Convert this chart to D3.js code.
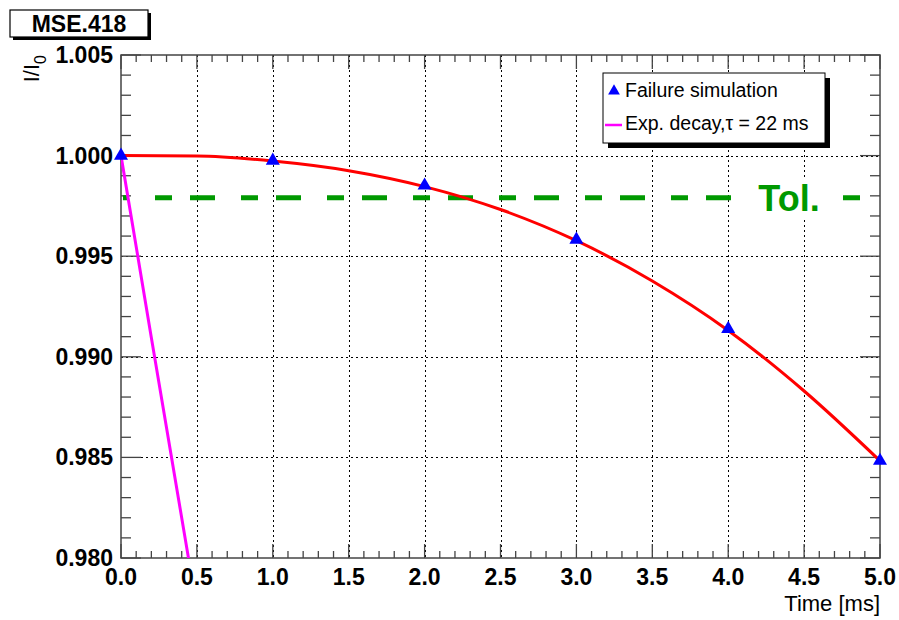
<!DOCTYPE html>
<html>
<head>
<meta charset="utf-8">
<script src="https://cdn.jsdelivr.net/npm/d3@7"></script>
<style>
  body { margin: 0; background: #fff; }
  text { font-family: "Liberation Sans", Arial, sans-serif; }
</style>
</head>
<body>
<div class="chart"></div>
<script>
// Data
const simTime = [0, 1, 2, 3, 4, 5];
const simValue = [1.0000, 0.99975, 0.99851, 0.99582, 0.99139, 0.98483];

const fitTime = [0, 0.5, 1.0, 1.5, 2.0, 2.5, 3.0, 3.5, 4.0, 4.5, 5.0];
const fitValue = [1.0000, 0.99998, 0.99973, 0.99925, 0.99846, 0.99732, 0.99577, 0.99377, 0.99131, 0.98830, 0.98483];

const expTime = [0, 0.2, 0.45];
const expValue = [1.0000, 0.99095, 0.97975];

const tolerance = 0.9979;
const xTicks = [0, 0.5, 1, 1.5, 2, 2.5, 3, 3.5, 4, 4.5, 5];
const yTicks = [0.980, 0.985, 0.990, 0.995, 1.000, 1.005];

// Frame
const W = 899, H = 620;
const frame = {left: 121, right: 880, top: 55, bottom: 558};

const svg = d3.select('.chart').append('svg')
    .attr('width', W)
    .attr('height', H);

const x = d3.scaleLinear().domain([0, 5]).range([frame.left, frame.right]);
const y = d3.scaleLinear().domain([0.980, 1.005]).range([frame.bottom, frame.top]);

svg.append('clipPath').attr('id', 'clip')
  .append('rect')
    .attr('x', frame.left).attr('y', frame.top)
    .attr('width', frame.right - frame.left).attr('height', frame.bottom - frame.top);

// grid
const grid = svg.append('g')
    .attr('stroke', '#000')
    .attr('stroke-width', 1)
    .attr('stroke-dasharray', '2,3');
grid.selectAll('.gx').data(xTicks.slice(1, -1)).join('line')
    .attr('x1', d => Math.round(x(d)) + 0.5).attr('x2', d => Math.round(x(d)) + 0.5)
    .attr('y1', frame.top).attr('y2', frame.bottom);
grid.selectAll('.gy').data(yTicks.slice(1, -1)).join('line')
    .attr('y1', d => Math.round(y(d)) + 0.5).attr('y2', d => Math.round(y(d)) + 0.5)
    .attr('x1', frame.left).attr('x2', frame.right);

// ticks on all four sides, pointing inward
const xMinor = d3.range(0, 50.5, 1).map(d => d / 10);
const yMinor = d3.range(980, 1005.5, 1).map(d => d / 1000);
const ticks = svg.append('g').attr('stroke', '#444').attr('stroke-width', 1.3);
xMinor.forEach((d, i) => {
  const len = i % 5 === 0 ? 14 : 7;
  const px = x(d);
  ticks.append('line').attr('x1', px).attr('x2', px).attr('y1', frame.bottom).attr('y2', frame.bottom - len);
  ticks.append('line').attr('x1', px).attr('x2', px).attr('y1', frame.top).attr('y2', frame.top + len);
});
yMinor.forEach((d, i) => {
  const len = i % 5 === 0 ? 20 : 10;
  const py = y(d);
  ticks.append('line').attr('y1', py).attr('y2', py).attr('x1', frame.left).attr('x2', frame.left + len);
  ticks.append('line').attr('y1', py).attr('y2', py).attr('x1', frame.right).attr('x2', frame.right - len);
});

svg.append('rect')
    .attr('x', frame.left).attr('y', frame.top)
    .attr('width', frame.right - frame.left).attr('height', frame.bottom - frame.top)
    .attr('fill', 'none').attr('stroke', '#444').attr('stroke-width', 1.5);

// tick labels
svg.append('g').selectAll('text').data(xTicks).join('text')
    .attr('x', d => x(d)).attr('y', 585)
    .attr('text-anchor', 'middle')
    .attr('font-size', 23).attr('font-weight', 'bold')
    .text(d => d3.format('.1f')(d));
svg.append('g').selectAll('text').data(yTicks).join('text')
    .attr('x', 113).attr('y', d => y(d) + 8)
    .attr('text-anchor', 'end')
    .attr('font-size', 23).attr('font-weight', 'bold')
    .text(d => d3.format('.3f')(d));

// axis titles
svg.append('text')
    .attr('x', 880).attr('y', 611)
    .attr('text-anchor', 'end')
    .attr('font-size', 22)
    .text('Time [ms]');
const yt = svg.append('text')
    .attr('transform', 'translate(39,55) rotate(-90)')
    .attr('text-anchor', 'end')
    .attr('font-size', 22);
yt.append('tspan').text('I/I');
yt.append('tspan').attr('font-size', 16).attr('dy', 7).text('0');

const plot = svg.append('g').attr('clip-path', 'url(#clip)');

// tolerance line, dashes laid out from its right end
plot.append('line')
    .attr('x1', 860).attr('x2', x(0) + 2)
    .attr('y1', y(tolerance)).attr('y2', y(tolerance))
    .attr('stroke', '#009900').attr('stroke-width', 5)
    .attr('stroke-dasharray', '17,26,25,18');
svg.append('rect')
    .attr('x', 740).attr('y', y(tolerance) - 20)
    .attr('width', 100).attr('height', 40)
    .attr('fill', '#fff');
svg.append('text')
    .attr('x', 789).attr('y', y(tolerance) + 13)
    .attr('text-anchor', 'middle')
    .attr('font-size', 36).attr('font-weight', 'bold')
    .attr('fill', '#009900')
    .text('Tol.');

const line = d3.line().x(d => x(d[0])).y(d => y(d[1]));

// fit curve
plot.append('path')
    .datum(d3.zip(fitTime, fitValue))
    .attr('d', line.curve(d3.curveMonotoneX))
    .attr('fill', 'none').attr('stroke', '#ff0000').attr('stroke-width', 3);

// exponential decay
plot.append('path')
    .datum(d3.zip(expTime, expValue))
    .attr('d', line.curve(d3.curveLinear))
    .attr('fill', 'none').attr('stroke', '#ff00ff').attr('stroke-width', 3);

// simulation points
const tri = d3.symbol().type(d3.symbolTriangle).size(85);
svg.append('g').selectAll('path').data(d3.zip(simTime, simValue)).join('path')
    .attr('d', tri)
    .attr('transform', d => `translate(${x(d[0])},${y(d[1])})`)
    .attr('fill', '#0000ff');

// title box
svg.append('rect').attr('x', 13).attr('y', 13).attr('width', 138).attr('height', 27).attr('fill', '#000');
svg.append('rect').attr('x', 10).attr('y', 10).attr('width', 138).attr('height', 27)
    .attr('fill', '#fff').attr('stroke', '#000').attr('stroke-width', 1.2);
svg.append('text')
    .attr('x', 79).attr('y', 32)
    .attr('text-anchor', 'middle')
    .attr('font-size', 23).attr('font-weight', 'bold')
    .text('MSE.418');

// legend
const lg = svg.append('g');
lg.append('rect').attr('x', 608).attr('y', 78).attr('width', 222).attr('height', 70).attr('fill', '#000');
lg.append('rect').attr('x', 603).attr('y', 73).attr('width', 222).attr('height', 70)
    .attr('fill', '#fff').attr('stroke', '#000').attr('stroke-width', 1);
lg.append('path').attr('d', d3.symbol().type(d3.symbolTriangle).size(60))
    .attr('transform', 'translate(614,91)').attr('fill', '#0000ff');
lg.append('text').attr('x', 625).attr('y', 97).attr('font-size', 19.5).text('Failure simulation');
lg.append('line').attr('x1', 605).attr('x2', 622).attr('y1', 125).attr('y2', 125)
    .attr('stroke', '#ff00ff').attr('stroke-width', 2.5);
lg.append('text').attr('x', 625).attr('y', 130).attr('font-size', 19.5).text('Exp. decay,\u03c4 = 22 ms');
</script>
</body>
</html>
